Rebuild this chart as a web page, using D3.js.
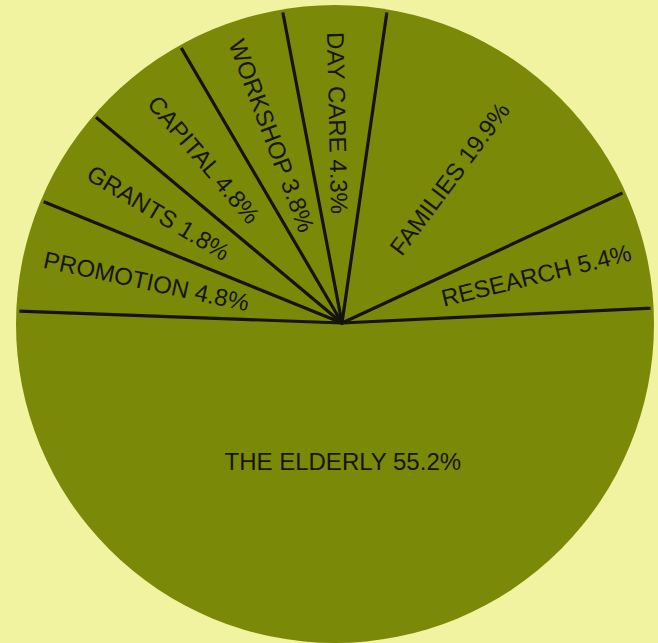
<!DOCTYPE html>
<html>
<head>
<meta charset="utf-8">
<script src="https://cdn.jsdelivr.net/npm/d3@7"></script>
<style>
  html, body { margin: 0; padding: 0; background: #f2f3a0; }
  svg { display: block; }
</style>
</head>
<body>
<div class="container"></div>
<script>
// categories clockwise, starting just above the left horizontal
let categories = ["PROMOTION", "GRANTS", "CAPITAL", "WORKSHOP", "DAY CARE", "FAMILIES", "RESEARCH", "THE ELDERLY"]
// printed percentages
let percents = [4.8, 1.8, 4.8, 3.8, 4.3, 19.9, 5.4, 55.2]
// slice sizes as they are actually drawn in the original (percent of the circle)
let drawnShares = [5.56, 4.94, 5.50, 5.42, 5.28, 15.81, 6.14, 51.35]

let width = 658
let height = 643

let cx = 335, cy = 324, radius = 319   // disc
let hx = 342, hy = 323                 // where the dividers meet

let data = categories.map(function (c, i) {
  return { name: c, pct: percents[i], share: drawnShares[i] }
})

let start = -87.9 * Math.PI / 180
let pie = d3.pie()
  .sort(null)
  .value(function (d) { return d.share })
  .startAngle(start)
  .endAngle(start + 2 * Math.PI)

let arcs = pie(data)

let svg = d3.select(".container")
  .append("svg")
  .attr("width", width)
  .attr("height", height)

svg.append("rect")
  .attr("width", width)
  .attr("height", height)
  .attr("fill", "#f2f3a0")

svg.append("clipPath")
  .attr("id", "disc")
  .append("circle")
  .attr("cx", cx)
  .attr("cy", cy)
  .attr("r", radius - 3)

svg.append("circle")
  .attr("cx", cx)
  .attr("cy", cy)
  .attr("r", radius)
  .attr("fill", "#7b8909")

let g = svg.append("g")
  .attr("clip-path", "url(#disc)")

g.selectAll(".divider")
  .data(arcs)
  .enter()
  .append("line")
  .attr("class", "divider")
  .attr("x1", hx)
  .attr("y1", hy)
  .attr("x2", function (d) { return hx + 420 * Math.sin(d.startAngle) })
  .attr("y2", function (d) { return hy - 420 * Math.cos(d.startAngle) })
  .attr("stroke", "#14140a")
  .attr("stroke-width", 3.2)
  .attr("stroke-linecap", "round")

function labelRadius(d) {
  if (d.data.name === "THE ELDERLY") return 139
  if (d.data.name === "FAMILIES") return 180
  if (d.data.name === "GRANTS" || d.data.name === "CAPITAL") return 214
  return 200
}

function rotation(d) {
  let a = (d.startAngle + d.endAngle) / 2
  let deg = a * 180 / Math.PI
  if (Math.abs(a - Math.PI) < 0.3) return 0
  if (Math.sin(a) < 0) return deg + 90
  return deg - 90
}

svg.selectAll(".label")
  .data(arcs)
  .enter()
  .append("text")
  .attr("class", "label")
  .attr("transform", function (d) {
    let a = (d.startAngle + d.endAngle) / 2
    let r = labelRadius(d)
    let x = hx + r * Math.sin(a)
    let y = hy - r * Math.cos(a)
    return "translate(" + x + "," + y + ") rotate(" + rotation(d) + ")"
  })
  .attr("text-anchor", "middle")
  .attr("dominant-baseline", "central")
  .attr("font-family", "Liberation Sans, Arial, sans-serif")
  .attr("font-size", "24px")
  .attr("fill", "#15150a")
  .text(function (d) { return d.data.name + " " + d.data.pct + "%" })
</script>
</body>
</html>
